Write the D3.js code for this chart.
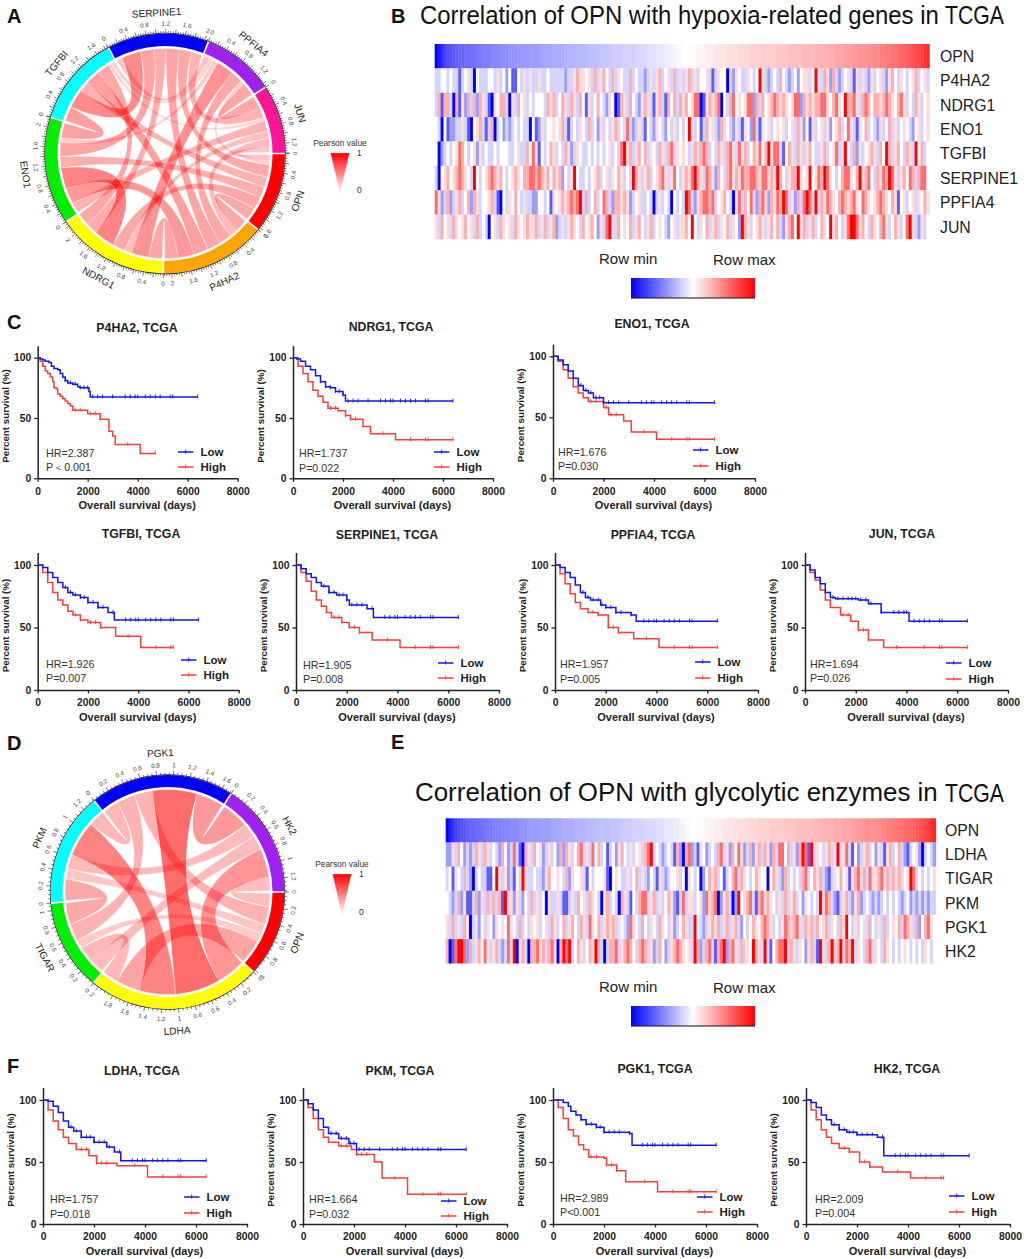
<!DOCTYPE html>
<html><head><meta charset="utf-8">
<script src="https://cdn.jsdelivr.net/npm/d3@7"></script>
<style>
html,body{margin:0;padding:0;background:#fff}
svg{display:block}
text{font-family:"Liberation Sans",Arial,sans-serif}
</style></head><body><svg id="fig" width="1024" height="1259"></svg>
<script>
// ---------- chord data ----------
const hypoxiaGenes=["OPN","P4HA2","NDRG1","ENO1","TGFBI","SERPINE1","PPFIA4","JUN"];
const hypoxiaMatrix=[
[0,.30,.30,.27,.25,.30,.10,.14],
[.30,0,.32,.38,.35,.32,.30,.20],
[.30,.32,0,.50,.30,.28,.42,.18],
[.27,.38,.50,0,.35,.33,.12,.25],
[.25,.35,.30,.35,0,.45,.09,.08],
[.30,.32,.28,.33,.45,0,.15,.25],
[.10,.30,.42,.12,.09,.15,0,.31],
[.14,.20,.18,.25,.08,.25,.31,0]];
const hypoxiaOrder=[
[7,6,5,4,3,2,1],
[0,7,6,5,4,3,2],
[1,6,7,0,3,5,4],
[7,1,2,0,5,6,4],
[3,5,0,1,2,7,6],
[6,4,3,2,1,0,7],
[5,4,3,2,1,0,7],
[6,5,4,3,2,1,0]];
const glycoGenes=["OPN","LDHA","TIGAR","PKM","PGK1","HK2"];
const glycoMatrix=[
[0,.33,.12,.14,.25,.19],
[.33,0,.22,.50,.62,.40],
[.12,.22,0,.30,.25,.20],
[.14,.50,.30,0,.22,.20],
[.25,.62,.25,.22,0,.38],
[.19,.40,.20,.20,.38,0]];
const glycoOrder=[
[5,4,3,2,1],
[5,4,3,0,2],
[5,1,0,4,3],
[2,0,5,1,4],
[3,2,0,1,5],
[4,3,2,1,0]];
const sectorColors=["#ff0000","#ffa500","#ffff00","#00ee00","#00ffff","#0000ff","#a020f0","#ff1493"];
const glycoColors=["#ff0000","#ffff00","#00ee00","#00ffff","#0000ff","#a020f0"];

// ---------- heatmap data (levels 0 = row min, 4 = mid, 8 = row max) ----------
const opnSorted=[0,.4,.7,1,1.2,1.3,1.4,1.5,1.6,1.6,1.7,1.7,1.8,1.8,1.9,1.9,2,2,2,2.1,2.1,2.1,2.2,2.2,2.2,2.3,2.3,2.3,2.4,2.4,2.4,2.4,2.5,2.5,2.5,2.5,2.6,2.6,2.6,2.6,2.7,2.7,2.7,2.7,2.8,2.8,2.8,2.8,2.9,2.9,2.9,2.9,3,3,3,3,3.1,3.1,3.1,3.1,3.2,3.2,3.2,3.2,3.3,3.3,3.3,3.3,3.4,3.4,3.4,3.4,3.5,3.5,3.5,3.6,3.6,3.6,3.7,3.7,3.8,3.8,3.9,3.9,
4,4,4.1,4.1,4.1,4.2,4.2,4.2,4.3,4.3,4.3,4.4,4.4,4.4,4.4,4.5,4.5,4.5,4.5,4.6,4.6,4.6,4.6,4.7,4.7,4.7,4.7,4.8,4.8,4.8,4.8,4.8,4.9,4.9,4.9,4.9,5,5,5,5,5,5.1,5.1,5.1,5.1,5.2,5.2,5.2,5.2,5.3,5.3,5.3,5.4,5.4,5.4,5.5,5.5,5.5,5.6,5.6,5.7,5.7,5.7,5.8,5.8,5.9,5.9,6,6,6.1,6.1,6.2,6.2,6.3,6.4,6.4,6.5,6.6,6.7,6.8,6.9,7,7.2,7.4];
const rowP4HA2=[3,3,4,4,3,4,3,3,1,3,4,5,3,0,4,3,3,3,4,4,3,5,3,4,2,4,1,1,4,3,5,3,5,3,3,5,3,3,4,3,3,3,3,3,2,3,3,5,6,5,5,4,5,3,6,3,5,6,4,3,6,3,5,4,3,3,6,3,4,3,3,2,3,5,3,5,6,3,4,5,3,6,3,5,
3,5,6,3,5,3,4,4,5,3,1,3,5,4,4,0,3,2,5,4,3,3,5,4,3,4,8,5,3,2,3,4,3,6,4,3,2,3,4,2,4,5,5,3,4,8,5,3,6,5,2,6,3,2,3,4,5,3,1,5,3,5,3,2,5,3,4,5,3,2,5,6,4,3,5,4,3,4,5,6,3,4,5,3];
const rowNDRG1=[3,6,1,6,6,3,0,6,1,5,2,6,3,6,2,6,5,3,1,0,5,4,6,6,3,0,5,3,6,4,5,3,4,3,4,4,4,3,6,5,6,3,4,6,5,3,6,5,3,6,4,1,5,3,4,6,4,3,2,5,4,0,1,6,5,3,6,4,3,2,5,6,5,3,1,5,6,3,1,6,4,6,3,6,
5,6,4,5,7,7,0,1,5,6,5,6,7,0,4,3,6,7,4,5,4,5,7,7,2,6,3,6,4,5,6,7,6,5,6,5,4,5,7,7,2,6,5,6,5,6,6,7,7,5,4,6,7,5,4,8,6,6,7,5,3,6,7,6,4,6,6,5,6,7,6,5,4,6,7,5,3,4,3,6,5,3,4,5];
const rowENO1=[4,3,0,4,1,2,2,3,3,5,3,1,0,4,5,6,3,1,3,6,0,3,4,2,3,2,3,4,3,4,3,3,0,4,1,2,5,3,4,4,5,4,5,6,3,1,3,4,3,5,4,3,6,3,4,2,5,3,4,3,5,6,3,4,3,7,3,2,3,5,3,1,4,3,2,5,4,3,2,4,3,5,3,4,
3,4,8,5,3,4,1,3,6,4,5,3,2,6,5,4,3,2,5,3,1,5,4,2,7,3,1,5,4,5,3,4,5,4,5,3,4,5,3,6,5,2,4,1,5,3,4,5,3,5,2,4,5,6,3,4,7,5,3,1,5,4,6,3,4,3,2,5,3,4,6,3,5,3,4,5,4,3,2,4,5,3,4,5];
const rowTGFBI=[4,0,2,3,4,3,4,5,7,6,4,3,4,5,2,5,3,4,3,3,4,3,4,4,4,3,3,4,5,3,3,6,4,7,5,1,4,3,4,6,5,3,4,3,6,5,2,3,5,4,3,3,4,3,4,3,4,3,4,5,3,4,3,7,8,5,6,3,5,6,4,6,3,5,4,3,6,5,3,6,7,3,5,4,
5,4,3,5,6,3,6,7,6,3,4,3,6,5,3,6,7,5,3,7,5,6,3,4,6,5,7,4,6,8,5,7,7,3,1,4,6,5,3,6,5,3,5,6,4,3,3,5,6,3,4,5,7,3,5,8,4,3,6,2,5,3,4,5,6,5,3,6,4,8,6,3,5,6,4,3,6,5,3,8,4,6,3,4];
const rowSERPINE1=[3,0,4,5,6,4,5,6,7,6,5,4,3,8,4,3,4,5,6,7,6,5,6,4,3,4,5,6,5,4,6,6,7,7,6,7,6,5,6,4,6,5,6,2,4,3,5,8,4,3,3,4,3,4,5,6,3,4,5,3,5,4,6,5,3,4,3,8,6,5,3,5,6,3,4,5,6,7,5,3,5,7,4,3,
5,6,5,7,8,6,5,3,7,6,5,2,6,4,3,6,7,5,6,5,7,6,6,7,7,6,5,7,7,5,6,5,8,6,4,3,5,6,6,8,5,4,5,8,4,5,7,6,8,7,5,4,3,4,6,7,7,5,4,6,8,5,6,7,4,3,6,5,7,6,8,7,5,3,5,6,4,7,6,3,6,7,7,4];
const rowPPFIA4=[7,5,2,3,6,2,3,5,6,3,4,6,2,6,5,3,4,4,5,6,3,1,0,4,3,5,4,6,4,3,5,3,3,2,2,4,4,3,4,1,5,4,5,6,5,6,7,6,7,8,3,6,3,4,6,3,4,7,6,3,2,6,6,5,6,5,2,3,4,5,3,3,4,3,0,3,5,3,4,3,0,4,3,4,
3,8,7,3,2,5,6,7,7,6,7,3,4,5,6,4,3,0,5,7,3,6,4,7,3,2,6,7,5,2,6,5,7,6,8,7,3,5,2,6,3,7,8,7,5,8,3,6,5,7,6,5,4,6,7,6,5,6,7,5,4,7,6,5,4,5,6,7,6,5,4,6,5,1,4,5,3,4,5,3,5,4,6,5];
const rowJUN=[5,3,6,4,5,3,6,5,4,5,6,4,5,3,6,3,4,3,0,4,5,3,6,5,4,5,3,6,5,4,5,6,5,5,6,3,5,6,3,5,6,2,3,5,3,5,6,5,4,3,6,4,5,6,4,2,5,3,7,8,5,3,6,4,5,4,6,3,5,6,4,3,5,6,3,4,5,4,3,2,4,5,3,5,
5,6,4,8,4,3,5,4,6,3,5,6,3,5,4,6,3,5,4,2,8,6,5,3,4,5,6,5,3,5,6,4,6,3,2,5,6,7,4,8,5,6,3,5,6,3,4,6,5,4,8,5,6,4,3,5,7,8,8,7,5,6,4,3,6,5,4,6,7,5,3,4,6,5,3,4,7,8,5,3,2,5,3,4];
const rowLDHA=[2,2,5,3,6,4,2,3,2,3,6,5,3,6,5,3,4,3,2,6,4,2,3,7,3,1,0,6,5,3,6,4,5,2,3,5,3,4,2,6,2,6,5,3,4,6,7,3,5,3,7,4,6,3,4,1,3,4,2,5,6,4,3,5,3,4,5,3,6,7,8,3,4,3,2,3,4,3,1,6,2,0,6,7,
2,3,1,5,4,2,3,4,3,6,7,3,5,2,6,4,7,5,2,3,6,2,5,6,3,6,5,2,6,3,7,7,4,6,3,5,2,6,8,7,1,8,3,5,4,3,5,6,3,5,8,3,5,7,3,1,4,2,3,5,6,3,4,2,5,3,1,5,6,3,4,6,3,2,1,3,4,5,2,0,3,4,3,2];
const rowTIGAR=[3,4,1,5,4,3,6,3,2,0,3,4,3,3,1,1,4,8,5,3,5,2,3,1,4,3,8,5,3,3,4,3,3,2,5,6,4,4,5,4,3,6,2,5,4,4,5,3,1,4,3,4,4,4,5,1,0,4,5,4,3,3,5,3,4,6,3,5,3,2,4,3,1,5,3,2,3,4,4,5,3,4,0,5,
4,3,4,0,2,4,6,5,6,3,4,1,3,4,6,7,3,6,5,4,3,4,6,5,4,4,0,4,6,5,3,2,6,3,4,3,4,3,6,7,3,4,6,5,6,3,2,1,3,5,4,6,4,5,1,5,6,7,5,6,3,7,5,5,6,7,5,6,3,6,5,6,3,4,5,8,7,3,4,3,4,3,4,5];
const rowPKM=[4,3,2,3,6,2,5,1,1,3,6,2,5,3,6,3,6,3,6,1,8,3,5,2,5,3,2,4,3,6,3,5,3,4,0,5,3,3,5,3,1,1,3,5,3,6,4,5,3,6,5,4,3,0,5,6,3,4,3,0,6,5,3,1,4,3,6,7,7,3,5,6,3,5,3,4,6,5,2,1,3,7,3,5,
5,3,4,5,2,7,5,6,7,0,2,5,6,3,0,2,8,4,5,6,7,3,1,6,7,5,6,5,4,3,5,3,6,3,5,6,3,4,2,5,4,3,4,3,8,5,7,6,3,2,1,3,5,6,3,2,5,6,2,3,4,3,2,3,2,3,4,3,4,3,4,3,2,3,4,2,3,2,3,2,3,2,3,3];
const rowPGK1=[5,3,6,3,5,3,6,5,0,3,5,2,4,3,5,4,2,5,4,5,4,7,5,4,3,6,3,4,3,5,4,5,3,4,5,3,6,5,3,4,6,3,5,6,4,3,6,5,3,7,5,4,6,3,5,6,5,6,3,5,4,3,2,7,5,4,3,6,4,3,5,4,3,6,5,4,3,5,2,3,4,6,5,3,
3,8,4,3,2,3,5,6,5,6,3,5,6,3,5,6,3,2,4,3,4,6,5,4,6,7,6,5,3,4,3,5,7,6,5,6,7,5,3,6,5,6,3,6,4,5,6,3,5,4,3,6,5,8,4,3,5,3,4,5,3,6,4,3,5,3,6,3,4,5,4,6,3,7,6,5,3,6,2,4,6,7,5,4];
const rowHK2=[6,0,1,7,8,8,7,2,6,3,5,6,4,7,5,3,5,6,3,2,3,7,5,8,0,5,6,3,0,6,6,7,5,6,3,6,7,5,0,6,8,7,8,3,4,6,5,3,4,6,5,8,6,3,0,3,6,6,7,3,5,6,7,6,4,3,6,7,6,3,5,2,3,6,4,2,3,5,6,7,6,5,4,5,
3,8,6,2,3,6,7,3,1,6,7,8,2,6,7,5,3,6,3,5,4,8,6,5,3,8,3,1,4,6,7,7,8,3,6,5,3,5,4,2,5,6,3,1,8,5,3,6,8,5,6,8,5,7,6,8,3,5,4,3,6,7,3,5,4,3,6,5,4,3,4,3,4,5,4,3,4,3,4,3,5,4,3,4];
const heatBRows=[["OPN",opnSorted],["P4HA2",rowP4HA2],["NDRG1",rowNDRG1],["ENO1",rowENO1],["TGFBI",rowTGFBI],["SERPINE1",rowSERPINE1],["PPFIA4",rowPPFIA4],["JUN",rowJUN]];
const heatERows=[["OPN",opnSorted],["LDHA",rowLDHA],["TIGAR",rowTIGAR],["PKM",rowPKM],["PGK1",rowPGK1],["HK2",rowHK2]];

// ---------- survival data: [days, percent] ----------
const p4ha2Low=[[0,100],[100,99],[200,98],[300,97],[450,96],[550,93],[650,91],[800,90],[900,87],[1000,84],[1100,81],[1200,79],[1400,78],[1600,76],[1700,75],[2050,72],[2100,67.5],[6400,67.5]];
const p4ha2High=[[0,100],[100,97],[200,93],[300,89],[400,87],[500,84],[600,80],[650,75],[750,74],[800,70],[900,68],[1000,66],[1100,64],[1200,62],[1300,60],[1400,56.5],[2000,53.5],[2500,49],[2850,39],[3000,35],[3100,28],[4100,20.5],[4700,21]];
const ndrg1Low=[[0,100],[150,99],[300,97],[500,93],[700,90],[900,85],[1100,80],[1300,76],[1500,75],[1700,72],[2000,69],[2100,64],[6400,64]];
const ndrg1High=[[0,100],[200,93],[400,87],[600,80],[800,73],[1000,68],[1200,63],[1400,58],[1800,56],[2100,52],[2300,49],[2800,43],[3100,37],[4100,32],[6400,32]];
const eno1Low=[[0,100],[200,97],[400,93],[600,88],[800,82],[1000,76],[1200,72],[1400,70],[1600,66],[2000,62],[6400,62]];
const eno1High=[[0,100],[200,96],[400,89],[600,82],[800,75],[1000,70],[1200,66],[1400,63],[2000,58],[2200,52],[2800,47],[3100,38],[4100,32],[6400,32]];
const tgfbiLow=[[0,100],[200,98],[400,94],[600,90],[800,86],[1000,82],[1200,78],[1400,76],[1700,74],[2000,70],[2400,66],[2800,62],[3050,56],[6400,56]];
const tgfbiHigh=[[0,100],[200,94],[400,86],[600,78],[800,72],[1000,68],[1200,63],[1400,60],[1700,56],[2000,54],[2500,50],[3100,43],[4100,34],[5400,34]];
const serpine1Low=[[0,100],[200,97],[400,93],[600,90],[800,86],[1000,83],[1300,78],[1600,76],[2000,72],[2100,68],[2800,65],[3050,58],[6400,58]];
const serpine1High=[[0,100],[200,94],[400,87],[600,79],[800,72],[1000,67],[1200,62],[1400,58],[1800,54],[2100,50],[2500,46],[3000,40],[4100,34],[6400,34]];
const ppfia4Low=[[0,100],[200,98],[400,94],[600,90],[800,84],[1000,78],[1200,74],[1400,72],[1800,68],[2000,66],[2400,62],[3000,60],[3200,55],[6400,55]];
const ppfia4High=[[0,100],[200,93],[400,85],[600,77],[800,70],[1000,65],[1300,62],[1700,60],[2100,50],[2500,46],[3100,41],[4100,34],[6400,34]];
const junLow=[[0,100],[200,96],[400,90],[600,85],[800,78],[1000,74],[1200,73],[2100,72],[2500,69],[3000,62],[4100,55],[6400,55]];
const junHigh=[[0,100],[200,94],[400,88],[600,80],[800,72],[1000,66],[1400,60],[1800,55],[2100,48],[2500,40],[3100,34],[6400,34]];
const ldhaLow=[[0,100],[200,99],[400,95],[600,90],[800,83],[1000,78],[1200,75],[1500,70],[2000,66],[2500,62],[2800,58],[3050,51],[6400,51]];
const ldhaHigh=[[0,100],[200,92],[400,83],[600,76],[800,70],[1000,65],[1300,60],[1800,55],[2100,49],[2900,47],[4100,38],[6400,38]];
const pkmLow=[[0,100],[200,97],[400,92],[600,85],[800,78],[1000,73],[1400,69],[1800,65],[2100,60],[6400,60]];
const pkmHigh=[[0,100],[200,94],[400,85],[600,76],[800,70],[1000,66],[1400,63],[1900,60],[2100,56],[2800,50],[3100,37],[4100,24],[6400,24]];
const pgk1Low=[[0,100],[400,98],[600,95],[700,91],[900,88],[1100,84],[1300,80.5],[1700,78],[2000,74],[3000,73],[3100,63.5],[6400,63.5]];
const pgk1High=[[0,100],[200,94],[400,85],[600,76],[800,71],[1000,64],[1200,60],[1400,54],[2000,53],[2100,47.5],[2500,43],[2850,34],[4100,26],[6400,26]];
const hk2Low=[[0,100],[200,98],[400,94],[600,88],[800,84],[1000,80],[1300,76],[1600,74],[2000,72],[2800,70],[3050,55],[6400,55]];
const hk2High=[[0,100],[200,92],[400,84],[600,76],[800,70],[1000,65],[1300,61],[1700,58],[2100,50],[2500,46],[3000,42],[4100,37],[5400,37]];
const censorLow=[1100,1300,1500,1700,1850,2000,2200,2400,2600,3000,3500,3700,3900,4000,4300,4500,4700,4900,5300,5400,6400];
const censorHigh=[1500,1700,2100,2300,2500,3600,4700,5300,5400,6400];
const xTicks=[0,2000,4000,6000,8000];
const yTicks=[0,50,100];

const panels=[
{t:"P4HA2, TCGA",low:p4ha2Low,high:p4ha2High,hr:"HR=2.387",p:"P\uFF1C0.001",x:37.7,y:478.3,w:200,h:120.6,tx:137,ty:328,ax:46,ay:453,ay2:467,lx:178,ly:452,ly2:467},
{t:"NDRG1, TCGA",low:ndrg1Low,high:ndrg1High,hr:"HR=1.737",p:"P=0.022",x:293,y:478.3,w:200,h:120.6,tx:391,ty:327,ax:299,ay:453,ay2:468,lx:434,ly:452,ly2:467},
{t:"ENO1, TCGA",low:eno1Low,high:eno1High,hr:"HR=1.676",p:"P=0.030",x:553,y:478.3,w:202,h:122,tx:652,ty:324,ax:558,ay:452,ay2:466,lx:693,ly:450,ly2:466},
{t:"TGFBI, TCGA",low:tgfbiLow,high:tgfbiHigh,hr:"HR=1.926",p:"P=0.007",x:37.7,y:690,w:201,h:125,tx:141,ty:534,ax:46,ay:664,ay2:678,lx:181,ly:660,ly2:675},
{t:"SERPINE1, TCGA",low:serpine1Low,high:serpine1High,hr:"HR=1.905",p:"P=0.008",x:296,y:690,w:203,h:125,tx:387,ty:535,ax:303,ay:665,ay2:679,lx:438,ly:663,ly2:678},
{t:"PPFIA4, TCGA",low:ppfia4Low,high:ppfia4High,hr:"HR=1.957",p:"P=0.005",x:555,y:690,w:203,h:125,tx:653,ty:535,ax:560,ay:664,ay2:679,lx:695,ly:662,ly2:678},
{t:"JUN, TCGA",low:junLow,high:junHigh,hr:"HR=1.694",p:"P=0.026",x:805,y:690,w:203,h:125,tx:902,ty:534,ax:810,ay:664,ay2:678,lx:946,ly:663,ly2:679},
{t:"LDHA, TCGA",low:ldhaLow,high:ldhaHigh,hr:"HR=1.757",p:"P=0.018",x:43,y:1224,w:204,h:124,tx:142,ty:1071,ax:50,ay:1199,ay2:1214,lx:184,ly:1197,ly2:1213},
{t:"PKM, TCGA",low:pkmLow,high:pkmHigh,hr:"HR=1.664",p:"P=0.032",x:303,y:1224,w:204,h:124,tx:400,ty:1071,ax:309,ay:1199,ay2:1214,lx:441,ly:1201,ly2:1216},
{t:"PGK1, TCGA",low:pgk1Low,high:pgk1High,hr:"HR=2.989",p:"P<0.001",x:553,y:1224,w:204,h:124,tx:655,ty:1069,ax:560,ay:1198,ay2:1212,lx:697,ly:1197,ly2:1212},
{t:"HK2, TCGA",low:hk2Low,high:hk2High,hr:"HR=2.009",p:"P=0.004",x:806,y:1224,w:204,h:124,tx:907,ty:1069,ax:815,ay:1199,ay2:1213,lx:949,ly:1196,ly2:1212}
];

const svg=d3.select("#fig");
const defs=svg.append("defs");
const txtCol="#222";
defs.append("filter").attr("id","soft").attr("x","-2%").attr("width","104%")
  .append("feGaussianBlur").attr("stdDeviation","0.55 0");

// panel letters
[["A",7,23],["B",391,23],["C",7,329],["D",7,750],["E",391,749],["F",7,1073]].forEach(([s,x,y])=>
  svg.append("text").attr("x",x).attr("y",y).attr("font-size",20).attr("font-weight","bold").attr("fill","#111").text(s));

// ---------- chord ----------
// link edge: quadratic curve leaving the rim radially; close neighbours stay away from the centre
function edgeControl(a,b,R){
  let d=Math.abs(b-a)%(2*Math.PI);
  let mid=(a+b)/2;
  if(d>Math.PI){d=2*Math.PI-d;mid+=Math.PI;}
  const c=.3*R*Math.max(0,1-d/(Math.PI*.45));
  const t=mid-Math.PI/2;
  return [c*Math.cos(t),c*Math.sin(t)];
}
function linkPath(l,R){
  const p=d3.path();
  const xy=a=>[R*Math.cos(a-Math.PI/2),R*Math.sin(a-Math.PI/2)];
  const a0=l.source.startAngle,a1=l.source.endAngle,b0=l.target.startAngle,b1=l.target.endAngle;
  p.moveTo(...xy(a0));
  p.arc(0,0,R,a0-Math.PI/2,a1-Math.PI/2,false);
  p.quadraticCurveTo(...edgeControl(a1,b0,R),...xy(b0));
  p.arc(0,0,R,b0-Math.PI/2,b1-Math.PI/2,false);
  p.quadraticCurveTo(...edgeControl(b1,a0,R),...xy(a0));
  p.closePath();
  return p.toString();
}
function drawChord(o){
  const g=svg.append("g").attr("transform",`translate(${o.cx},${o.cy})`);
  const n=o.names.length;
  const sums=o.matrix.map(r=>d3.sum(r));
  const total=d3.sum(sums);
  const toAngle=d3.scaleLinear().domain([0,total]).range([Math.PI/2,Math.PI/2+2*Math.PI]);
  const pad=0.012;
  let cum=0;const sectors=[];
  sums.forEach((s,i)=>{const a0=toAngle(cum),a1=toAngle(cum+s);sectors.push({i,a0,a1,sum:s});cum+=s;});
  const subs={};
  sectors.forEach(sec=>{
    const scale=d3.scaleLinear().domain([0,sec.sum]).range([sec.a0+pad,sec.a1-pad]);
    let c=0;
    o.order[sec.i].forEach(j=>{
      const v=o.matrix[sec.i][j];
      subs[sec.i+"-"+j]={startAngle:scale(c),endAngle:scale(c+v)};
      c+=v;
    });
  });
  const links=[];
  for(let i=0;i<n;i++)for(let j=i+1;j<n;j++){
    links.push({source:subs[i+"-"+j],target:subs[j+"-"+i],value:o.matrix[i][j]});
  }
  links.sort((a,b)=>a.value-b.value);
  const op=d3.scaleLinear().domain([0,.6]).range([.12,.56]);
  g.selectAll("path.rib").data(links).join("path").attr("class","rib")
    .attr("d",d=>linkPath(d,o.rRib)).attr("fill","#ff0000").attr("fill-opacity",d=>op(d.value))
    .attr("stroke","#fff").attr("stroke-opacity",.6).attr("stroke-width",.5);
  const arc=d3.arc().innerRadius(o.rIn).outerRadius(o.rOut);
  g.selectAll("path.sec").data(sectors).join("path").attr("class","sec")
    .attr("d",d=>arc({startAngle:d.a0+pad*.6,endAngle:d.a1-pad*.6}))
    .attr("fill",d=>o.colors[d.i]);
  const line=d3.arc().innerRadius(o.rOut).outerRadius(o.rOut+.7);
  sectors.forEach(sec=>{
    g.append("path").attr("d",line({startAngle:sec.a0,endAngle:sec.a1})).attr("fill","#222");
    const a=d3.scaleLinear().domain([0,sec.sum]).range([sec.a0,sec.a1]);
    const nt=Math.floor(sec.sum/o.minor+1e-6);
    d3.range(nt+1).forEach(k=>{
      const v=k*o.minor;
      const isMajor=k%Math.round(o.major/o.minor)===0;
      const isLab=k%Math.round(o.label/o.minor)===0;
      const ang=a(v)-Math.PI/2;
      const r1=o.rOut,r2=o.rOut+(isMajor?4.5:2.5);
      g.append("line").attr("x1",r1*Math.cos(ang)).attr("y1",r1*Math.sin(ang))
        .attr("x2",r2*Math.cos(ang)).attr("y2",r2*Math.sin(ang))
        .attr("stroke","#222").attr("stroke-width",.6);
      if(isLab){
        placeText(g,String(+v.toFixed(2)),a(v),o.rTick,6.2,"#444");
      }
    });
    placeText(g,o.names[sec.i],(sec.a0+sec.a1)/2,o.rName,10,"#222");
  });
}
function placeText(g,s,angle,r,size,fill){
  const th=(angle-Math.PI/2)*180/Math.PI;       // clockwise from east
  const norm=((th%360)+360)%360;
  const rot=(norm>0&&norm<180)?norm-90:norm+90;
  const x=r*Math.cos(th*Math.PI/180),y=r*Math.sin(th*Math.PI/180);
  g.append("text").attr("transform",`translate(${x},${y}) rotate(${rot})`)
    .attr("text-anchor","middle").attr("dy","0.35em").attr("font-size",size).attr("fill",fill).text(s);
}
drawChord({cx:165,cy:153.5,names:hypoxiaGenes,matrix:hypoxiaMatrix,order:hypoxiaOrder,colors:sectorColors,rRib:105,rIn:107.5,rOut:120,rTick:130,rName:141,minor:.05,major:.2,label:.4});
drawChord({cx:167.5,cy:892,names:glycoGenes,matrix:glycoMatrix,order:glycoOrder,colors:glycoColors,rRib:102.5,rIn:105,rOut:117,rTick:127,rName:139,minor:.05,major:.2,label:.2});

// Pearson legends
function pearson(id,cx,top,bottom,half,textY,oneX,oneY,zeroY){
  const gr=defs.append("linearGradient").attr("id",id).attr("x1",0).attr("y1",0).attr("x2",0).attr("y2",1);
  gr.append("stop").attr("offset","0%").attr("stop-color","#ff0000");
  gr.append("stop").attr("offset","100%").attr("stop-color","#ffffff");
  const tri=d3.line()([[cx-half,top],[cx+half,top],[cx,bottom]])+"Z";
  svg.append("path").attr("d",tri).attr("fill",`url(#${id})`).attr("stroke","#ddd").attr("stroke-width",.3);
  svg.append("text").attr("x",cx).attr("y",textY).attr("text-anchor","middle").attr("font-size",8.4).attr("fill","#333").text("Pearson value");
  svg.append("text").attr("x",oneX).attr("y",oneY).attr("font-size",8.5).attr("fill","#333").attr("dy","0.35em").text("1");
  svg.append("text").attr("x",oneX).attr("y",zeroY).attr("font-size",8.5).attr("fill","#333").attr("dy","0.35em").text("0");
}
pearson("tri1",340,153,193,9.5,146,357,153,190);
pearson("tri2",342,874,915,9.5,867,359,874,912);

// ---------- heatmaps ----------
const opnColor=d3.scaleLinear().domain([0,4,8]).range(["#0000ff","#ffffff","#ff0000"]);
const heatColor=d3.scaleLinear().domain([0,1,2,3,4,5,6,7,8]).range(["#0000ff","#5a5aff","#9c9cff","#d4d4ff","#ffffff","#ffdcdc","#ffaeae","#ff6c6c","#ff0000"]);
function fitted(x,y,size,target,s){
  const t=svg.append("text").attr("font-size",size).attr("fill","#111").text(s);
  const len=t.node().getComputedTextLength();
  t.attr("transform",`translate(${x},${y}) scale(${target/len},1)`);
}
function drawHeat(o){
  const g=svg.append("g");
  const cells=g.append("g").attr("filter","url(#soft)");
  const y=d3.scaleBand().domain(o.rows.map(r=>r[0])).range([o.y0,o.y1]);
  o.rows.forEach(([name,vals])=>{
    const x=d3.scaleBand().domain(d3.range(vals.length)).range([o.x0,o.x1]);
    const col=name==="OPN"?opnColor:heatColor;
    cells.append("g").selectAll("rect").data(vals).join("rect")
      .attr("x",(d,i)=>x(i)).attr("width",x.bandwidth()+.4)
      .attr("y",y(name)).attr("height",y.bandwidth()+.2)
      .attr("fill",d=>col(d));
    g.append("text").attr("x",o.labelX).attr("y",y(name)+y.bandwidth()/2).attr("dy","0.36em")
      .attr("font-size",15.8).attr("fill","#222").text(name);
  });
  fitted(o.titleX,o.titleY,25,o.titleLen,o.title);
  fitted(945,o.titleY+.5,25.5,59,"TCGA");
  svg.append("text").attr("x",o.rminX).attr("y",o.rowY).attr("font-size",15).attr("fill","#222").text("Row min");
  svg.append("text").attr("x",o.rmaxX).attr("y",o.rowY+1).attr("font-size",15).attr("fill","#222").text("Row max");
  const id="lg"+o.id;
  const gr=defs.append("linearGradient").attr("id",id);
  [[0,"#0000ff"],[.5,"#ffffff"],[1,"#ff0000"]].forEach(([f,c])=>gr.append("stop").attr("offset",f*100+"%").attr("stop-color",c));
  svg.append("rect").attr("x",o.barX).attr("y",o.barY).attr("width",124).attr("height",20).attr("fill",`url(#${id})`);
  svg.append("line").attr("x1",o.barX).attr("x2",o.barX+124).attr("y1",o.barY+20).attr("y2",o.barY+20).attr("stroke","#111").attr("stroke-width",1.2);
}
drawHeat({id:"b",rows:heatBRows,x0:434.7,x1:929.3,y0:44,y1:239,labelX:940,title:"Correlation of OPN with hypoxia-related genes in",titleX:420,titleY:23.5,titleLen:519,rminX:599,rmaxX:713,rowY:264,barX:631,barY:278});
drawHeat({id:"e",rows:heatERows,x0:445.7,x1:935.7,y0:818.3,y1:963.3,labelX:945,title:"Correlation of OPN with glycolytic enzymes in",titleX:415,titleY:801,titleLen:523,rminX:599,rmaxX:713,rowY:992,barX:631,barY:1006});

// ---------- survival panels ----------
const blue="#1414ee",red="#f93d3d";
panels.forEach(p=>{
  const x=d3.scaleLinear().domain([0,8000]).range([p.x,p.x+p.w]);
  const y=d3.scaleLinear().domain([0,100]).range([p.y,p.y-p.h]);
  const g=svg.append("g");
  const ax=g.append("g").attr("transform",`translate(0,${p.y})`).call(d3.axisBottom(x).tickValues(xTicks).tickSize(3.5).tickSizeOuter(0).tickFormat(d3.format("d")));
  const ay=g.append("g").attr("transform",`translate(${p.x},0)`).call(d3.axisLeft(d3.scaleLinear().domain([0,110]).range([p.y,p.y-p.h*1.1])).tickValues(yTicks).tickSize(3.5).tickSizeOuter(0));
  [ax,ay].forEach(a=>{
    a.selectAll("path").attr("stroke","#222").attr("stroke-width",1.5);
    a.selectAll("line").attr("stroke","#222").attr("stroke-width",1.3);
    a.selectAll("text").attr("font-size",10.3).attr("font-weight","bold").attr("fill",txtCol).attr("font-family",'"Liberation Sans",Arial,sans-serif');
  });
  ax.selectAll("text").attr("dy","0.95em");
  const line=d3.line().x(d=>x(d[0])).y(d=>y(d[1])).curve(d3.curveStepAfter);
  const stepAt=(arr,t)=>{const i=d3.bisectRight(arr.map(d=>d[0]),t)-1;return arr[Math.max(i,0)][1];};
  [[p.high,red,censorHigh],[p.low,blue,censorLow]].forEach(([arr,col,cen])=>{
    g.append("path").attr("d",line(arr)).attr("fill","none").attr("stroke",col).attr("stroke-width",1.5);
    const last=arr[arr.length-1][0];
    g.append("g").selectAll("line").data(cen.filter(t=>t<=last)).join("line")
      .attr("x1",d=>x(d)).attr("x2",d=>x(d))
      .attr("y1",d=>y(stepAt(arr,d))-2.5).attr("y2",d=>y(stepAt(arr,d))+1.5)
      .attr("stroke",col).attr("stroke-width",.9);
  });
  g.append("text").attr("x",p.tx).attr("y",p.ty).attr("dy","0.35em").attr("text-anchor","middle").attr("font-size",12.3).attr("font-weight","bold").attr("fill",txtCol).text(p.t);
  g.append("text").attr("x",p.x+p.w/2-.5).attr("y",p.y+27).attr("dy","0.35em").attr("text-anchor","middle").attr("font-size",11).attr("font-weight","bold").attr("fill",txtCol).text("Overall survival (days)");
  g.append("text").attr("transform",`translate(${p.x-32.5},${p.y-p.h/2-2}) rotate(-90)`).attr("text-anchor","middle").attr("font-size",9.8).attr("font-weight","bold").attr("fill",txtCol).attr("dy","0.35em").text("Percent survival (%)");
  g.append("text").attr("x",p.ax).attr("y",p.ay).attr("dy","0.35em").attr("font-size",10.7).attr("fill","#333").text(p.hr);
  g.append("text").attr("x",p.ax).attr("y",p.ay2).attr("dy","0.35em").attr("font-size",10.7).attr("fill","#333").text(p.p);
  [["Low",blue,p.ly],["High",red,p.ly2]].forEach(([s,c,yy])=>{
    g.append("line").attr("x1",p.lx).attr("x2",p.lx+15.5).attr("y1",yy).attr("y2",yy).attr("stroke",c).attr("stroke-width",1.5);
    g.append("line").attr("x1",p.lx+7.7).attr("x2",p.lx+7.7).attr("y1",yy-2.5).attr("y2",yy+1.5).attr("stroke",c).attr("stroke-width",.9);
    g.append("text").attr("x",p.lx+22.5).attr("y",yy).attr("dy","0.35em").attr("font-size",11.5).attr("font-weight","bold").attr("fill",txtCol).text(s);
  });
});
</script></body></html>
